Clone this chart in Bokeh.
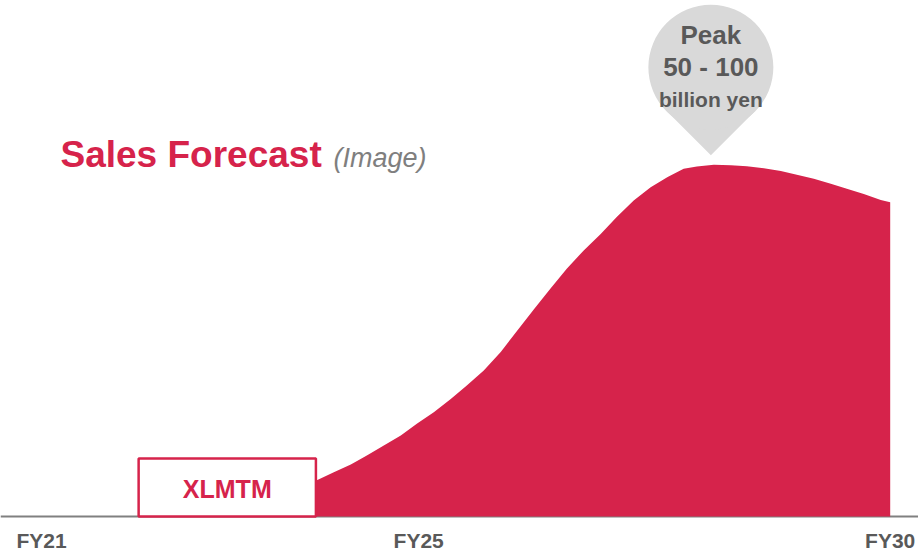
from bokeh.plotting import figure
from bokeh.models import Range1d, Span, Label
from bokeh.core.properties import value
from bokeh.embed import file_html
from bokeh.resources import INLINE

# ---------------- data ----------------
fiscal_year = [22.97, 23.43, 23.92, 24.10, 24.28, 24.45, 24.63, 24.81, 24.98,
               25.16, 25.34, 25.51, 25.69, 25.87, 26.04, 26.22, 26.40, 26.57,
               26.75, 26.93, 27.10, 27.28, 27.46, 27.64, 27.81, 27.95, 28.13,
               28.31, 28.48, 28.66, 28.84, 29.01, 29.19, 29.37, 29.54, 29.72,
               29.90, 30.00]
sales_index = [0.0, 5.1, 10.3, 12.6, 14.8, 17.4, 20.2, 23.1, 26.4,
               29.7, 33.5, 37.3, 41.6, 46.9, 52.8, 59.0, 65.0, 70.6,
               75.8, 80.5, 85.3, 90.0, 93.8, 96.7, 99.1, 99.7, 100.2,
               100.1, 99.8, 99.2, 98.4, 97.4, 96.2, 94.8, 93.4, 91.9,
               90.2, 89.5]
tick_years = [21, 25, 30]
tick_labels = ["FY21", "FY25", "FY30"]
launch_label = "XLMTM"
launch_years = [22.03, 23.91]
peak_lines = ["Peak", "50 - 100", "billion yen"]
title_main = "Sales Forecast"
title_note = "(Image)"

# ---------------- layout ----------------
W, H = 918, 553
PX_X = 94.3      # pixels per fiscal year
PX_Y = 3.51      # pixels per index point
X_START = 21 - 41 / PX_X
Y_START = -37 / PX_Y

RED = "#D6234B"
GREY_TXT = "#595959"
FONT = value("Liberation Sans")

p = figure(width=W, height=H, output_backend="svg", toolbar_location=None,
           x_range=Range1d(X_START, X_START + W / PX_X),
           y_range=Range1d(Y_START, Y_START + H / PX_Y),
           x_axis_type=None, y_axis_type=None, min_border=0,
           outline_line_color=None, background_fill_color="white",
           border_fill_color="white")
p.grid.visible = False

# baseline
p.add_layout(Span(location=0, dimension="width", line_color="#808080",
                  line_width=2, level="underlay"))

# sales area
p.varea(x=fiscal_year, y1=0, y2=sales_index, fill_color=RED)

# launch box
p.quad(left=[launch_years[0]], right=[launch_years[1]], bottom=[0],
       top=[58 / PX_Y], fill_color="white", line_color=RED, line_width=2.5)
p.text(x=[(launch_years[0] + launch_years[1]) / 2], y=[(516 - 488) / PX_Y],
       text=[launch_label], text_font=FONT, text_font_style="bold",
       text_font_size="25px", text_color=RED, text_align="center",
       text_baseline="alphabetic")

# peak balloon
i_peak = max(range(len(sales_index)), key=lambda i: sales_index[i])
px, pv = fiscal_year[i_peak] - 3 / PX_X, sales_index[i_peak]
tip_y = pv + 9.5 / PX_Y
cy = tip_y + 88 / PX_Y
dx_t, dy_t = 44 / PX_X, 44 / PX_Y
p.patch(x=[px, px - dx_t, px, px + dx_t], y=[tip_y, cy - dy_t, cy, cy - dy_t],
        fill_color="#D9D9D9", line_color=None)
p.scatter(x=[px], y=[cy], size=125, marker="circle", fill_color="#D9D9D9",
          line_color=None)
offsets = [32, 0, -32]
sizes = ["26px", "26px", "21px"]
for txt, off, sz in zip(peak_lines, offsets, sizes):
    p.text(x=[px], y=[cy + off / PX_Y], text=[txt], text_font=FONT,
           text_font_style="bold", text_font_size=sz, text_color=GREY_TXT,
           text_align="center", text_baseline="alphabetic")

# tick labels
p.text(x=tick_years, y=[(516 - 540) / PX_Y] * len(tick_years), text=tick_labels,
       text_font=FONT, text_font_style="bold", text_font_size="21px",
       text_color=GREY_TXT, text_align="center", text_baseline="middle")

# title
p.add_layout(Label(x=60, y=H - 154, x_units="screen", y_units="screen",
                   text=title_main, text_font="Liberation Sans",
                   text_font_style="bold", text_font_size="37px",
                   text_color=RED, text_baseline="alphabetic"))
p.add_layout(Label(x=333, y=H - 157, x_units="screen", y_units="screen",
                   text=title_note, text_font="Liberation Sans",
                   text_font_style="italic", text_font_size="27px",
                   text_color="#7F7F7F", text_baseline="alphabetic"))

open("out.html", "w").write(file_html(p, INLINE))
